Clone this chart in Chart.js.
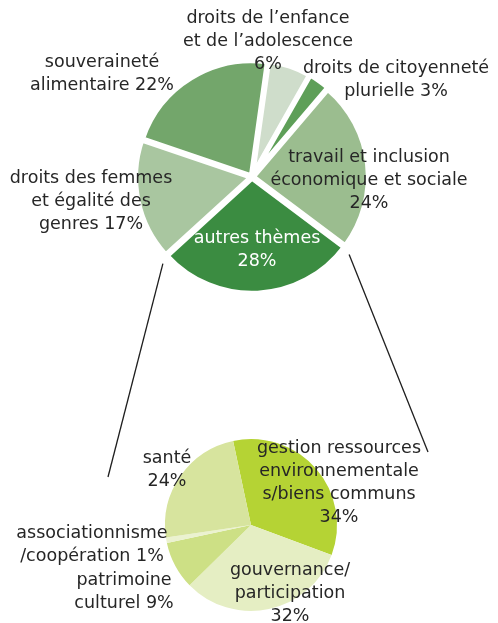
<!DOCTYPE html>
<html>
<head>
<meta charset="utf-8">
<script src="https://cdn.jsdelivr.net/npm/chart.js@4.4.1/dist/chart.umd.min.js"></script>
<style>
  html, body { margin: 0; padding: 0; background: #fff; }
  #wrap { position: relative; width: 498px; height: 623px; }
  #wrap canvas { position: absolute; left: 0; }
</style>
</head>
<body>
<div id="wrap">
  <canvas id="topPie" width="498" height="340" style="top:0"></canvas>
  <canvas id="bottomPie" width="498" height="283" style="top:340px"></canvas>
  <canvas id="links" width="498" height="623" style="top:0;pointer-events:none"></canvas>
</div>
<script>
// Thèmes principaux (pie du haut)
const topCategories = [
    ['droits de l’enfance', 'et de l’adolescence', '{v}%'],
    ['droits de citoyenneté', 'plurielle {v}%'],
    ['travail et inclusion', 'économique et sociale', '{v}%'],
    ['autres thèmes', '{v}%'],
    ['droits des femmes', 'et égalité des', 'genres {v}%'],
    ['souveraineté', 'alimentaire {v}%']
];
const topValues = [6, 3, 24, 28, 17, 22];
const topColors = ['#CFDDCB', '#5E9F58', '#9BBD8F', '#3B8C41', '#A9C6A0', '#73A66B'];

// Détail de "autres thèmes" (pie du bas)
const bottomCategories = [
    ['gestion ressources', 'environnementale', 's/biens communs', '{v}%'],
    ['gouvernance/', 'participation', '{v}%'],
    ['patrimoine', 'culturel {v}%'],
    ['associationnisme', '/coopération {v}%'],
    ['santé', '{v}%']
];
const bottomValues = [34, 32, 9, 1, 24];
const bottomColors = ['#B5D334', '#E5EEC3', '#CDE085', '#EBF2D0', '#D7E49E'];

// label placement, offsets of first line from the pie centre
const topLabelPos = [[16, -159], [144, -109], [117, -20], [5, 61], [-161, 1], [-150, -115]];
const bottomLabelPos = [[88, -77], [39, 45], [-127, 55], [-159, 8], [-84, -67]];
const linkEnds = [[-143, -48], [177, -73]]; // relative to bottom pie centre

const FONT = '17.5px "DejaVu Sans", sans-serif';
const LINE_H = 23;

function labelPlugin(names, positions, whiteIndex) {
    return {
        id: 'sliceLabels',
        afterDraw(chart) {
            const ctx = chart.ctx;
            const arc = chart.getDatasetMeta(0).data[0];
            const values = chart.data.datasets[0].data;
            ctx.save();
            ctx.font = FONT;
            ctx.textAlign = 'center';
            ctx.textBaseline = 'middle';
            names.forEach((lines, i) => {
                ctx.fillStyle = i === whiteIndex ? '#ffffff' : '#262626';
                lines.forEach((line, j) => {
                    const txt = line.replace('{v}', values[i]);
                    ctx.fillText(txt, arc.x + positions[i][0], arc.y + positions[i][1] + j * LINE_H);
                });
            });
            ctx.restore();
        }
    };
}

const baseOptions = {
    responsive: false,
    animation: false,
    events: [],
    plugins: { legend: { display: false }, tooltip: { enabled: false } }
};

const topChart = new Chart(document.getElementById('topPie'), {
    type: 'pie',
    data: {
        labels: topCategories.map(c => c[0]),
        datasets: [{
            data: topValues,
            backgroundColor: topColors,
            borderColor: '#ffffff',
            borderWidth: 5,
            offset: 5
        }]
    },
    options: Object.assign({}, baseOptions, {
        rotation: 8,
        layout: { padding: { left: 132, right: 126, top: 57, bottom: 43 } }
    }),
    plugins: [labelPlugin(topCategories, topLabelPos, 3)]
});

const bottomChart = new Chart(document.getElementById('bottomPie'), {
    type: 'pie',
    data: {
        labels: bottomCategories.map(c => c[0]),
        datasets: [{
            data: bottomValues,
            backgroundColor: bottomColors,
            borderWidth: 0
        }]
    },
    options: Object.assign({}, baseOptions, {
        rotation: -12,
        layout: { padding: { left: 165, right: 161, top: 99, bottom: 12 } }
    }),
    plugins: [labelPlugin(bottomCategories, bottomLabelPos, -1)]
});

// connector lines from "autres thèmes" to the detail pie
function drawLinks() {
    const ctx = document.getElementById('links').getContext('2d');
    const arc = topChart.getDatasetMeta(0).data[3];
    const off = 5;
    const mid = (arc.startAngle + arc.endAngle) / 2;
    const cx = arc.x + Math.cos(mid) * off;
    const cy = arc.y + Math.sin(mid) * off;
    const r = arc.outerRadius + 6;
    const bArc = bottomChart.getDatasetMeta(0).data[0];
    const bx = bArc.x;
    const by = bArc.y + 340;
    const starts = [arc.endAngle, arc.startAngle];
    ctx.strokeStyle = '#1e1e1e';
    ctx.lineWidth = 1.3;
    starts.forEach((a, i) => {
        ctx.beginPath();
        ctx.moveTo(cx + Math.cos(a) * r, cy + Math.sin(a) * r);
        ctx.lineTo(bx + linkEnds[i][0], by + linkEnds[i][1]);
        ctx.stroke();
    });
}
drawLinks();
</script>
</body>
</html>
